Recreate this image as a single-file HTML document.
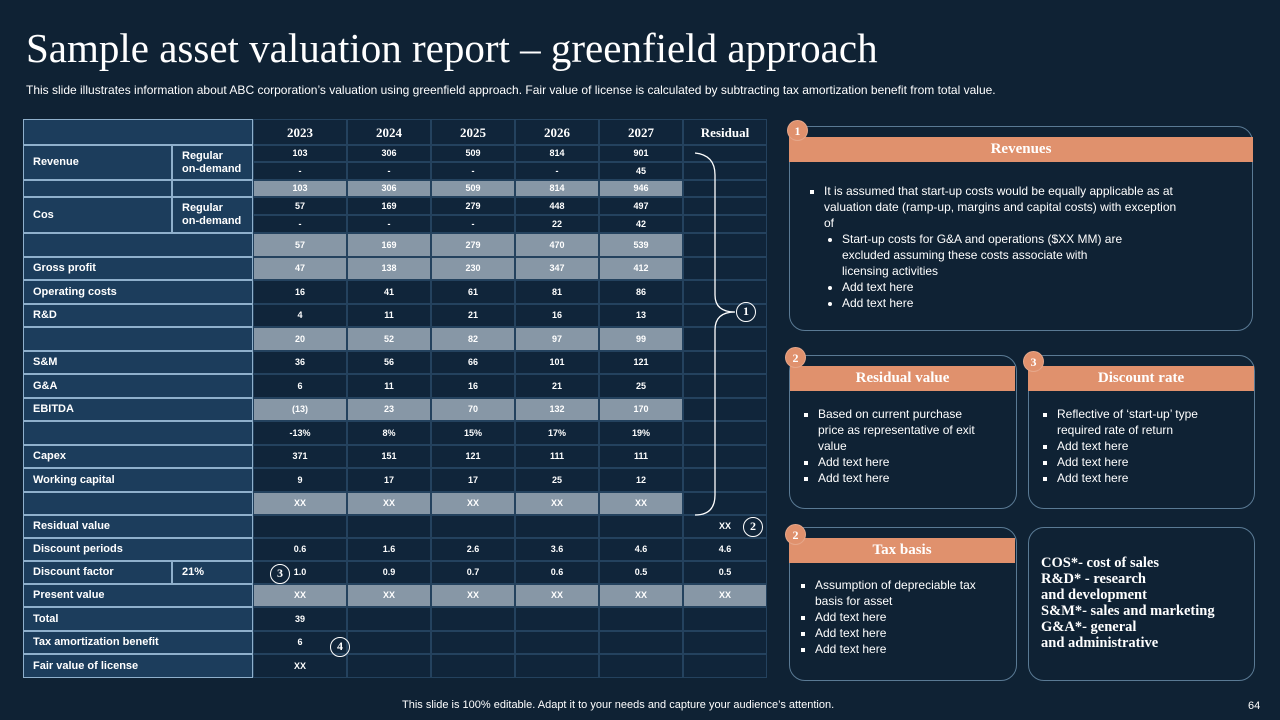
<!DOCTYPE html>
<html><head><meta charset="utf-8">
<style>
body{margin:0;width:1280px;height:720px;background:#0f2234;position:relative;overflow:hidden;font-family:"Liberation Sans",sans-serif;color:#fff}
.a{position:absolute;box-sizing:border-box}
.c{position:absolute;box-sizing:border-box;display:flex;align-items:center;font-size:9px;font-weight:bold;border:1px solid #24425e}
.lab{background:#1c3d5c;border:1.5px solid #8fb0cc;font-size:11px;padding-left:9px}
.num{justify-content:center;background:#10253a}
.g{background:#8797a6}
.hd{justify-content:center;font-family:"Liberation Serif",serif;font-size:13px;font-weight:bold}
.box{border:1px solid #5a7a94;border-radius:16px}
.bar{background:#e0916d;font-family:"Liberation Serif",serif;font-weight:bold;font-size:15px;text-align:center;line-height:25px}
.badge{width:21px;height:21px;border-radius:50%;background:#e0916d;border:1px solid #fff3;font-family:"Liberation Serif",serif;font-weight:bold;font-size:12px;text-align:center;line-height:20px}
.txt{font-size:12px;line-height:16px}
.txt ul{margin:0;padding-left:18px;list-style:square}
.txt ul ul{list-style:disc;width:290px}
.cir{width:20px;height:20px;border-radius:50%;border:1.5px solid #fff;font-family:"Liberation Serif",serif;font-weight:bold;font-size:12px;text-align:center;line-height:17px}
</style></head><body>
<div class="a" style="left:26px;top:24px;font-family:'Liberation Serif',serif;font-size:41px;white-space:nowrap">Sample asset valuation report – greenfield approach</div>
<div class="a" style="left:26px;top:83px;font-size:12px;white-space:nowrap">This slide illustrates information about ABC corporation’s valuation using greenfield approach. Fair value of license is calculated by subtracting tax amortization benefit from total value.</div>
<div id="tbl"></div>
<svg class="a" style="left:0;top:0" width="1280" height="720">
<path d="M695 153 Q715 155 715 175 L715 295 Q715 312 735 312 Q715 312 715 330 L715 495 Q715 515 695 515" fill="none" stroke="#fff" stroke-width="1.3"/></svg>
<div class="a cir" style="left:736px;top:302px">1</div>
<div class="a cir" style="left:743px;top:517px">2</div>
<div class="a cir" style="left:270px;top:564px">3</div>
<div class="a cir" style="left:330px;top:637px">4</div>

<div class="a box" style="left:789px;top:126px;width:464px;height:205px"></div>
<div class="a bar" style="left:789px;top:137px;width:464px;height:25px">Revenues</div>
<div class="a badge" style="left:787px;top:120px">1</div>
<div class="a txt" style="left:806px;top:183px;width:372px"><ul><li>It is assumed that start-up costs would be equally applicable as at valuation date (ramp-up, margins and capital costs) with exception of<ul><li>Start-up costs for G&amp;A and operations ($XX MM) are excluded assuming these costs associate with licensing activities</li><li>Add text here</li><li>Add text here</li></ul></li></ul></div>

<div class="a box" style="left:789px;top:355px;width:228px;height:154px"></div>
<div class="a bar" style="left:790px;top:366px;width:225px;height:25px">Residual value</div>
<div class="a badge" style="left:785px;top:347px">2</div>
<div class="a txt" style="left:800px;top:406px;width:188px"><ul><li>Based on current purchase price as representative of exit value</li><li>Add text here</li><li>Add text here</li></ul></div>

<div class="a box" style="left:1028px;top:355px;width:227px;height:154px"></div>
<div class="a bar" style="left:1028px;top:366px;width:226px;height:25px">Discount rate</div>
<div class="a badge" style="left:1023px;top:351px">3</div>
<div class="a txt" style="left:1039px;top:406px;width:200px"><ul><li>Reflective of ‘start-up’ type required rate of return</li><li>Add text here</li><li>Add text here</li><li>Add text here</li></ul></div>

<div class="a box" style="left:789px;top:527px;width:228px;height:154px"></div>
<div class="a bar" style="left:789px;top:538px;width:226px;height:25px">Tax basis</div>
<div class="a badge" style="left:785px;top:524px">2</div>
<div class="a txt" style="left:797px;top:577px;width:210px"><ul><li>Assumption of depreciable tax basis for asset</li><li>Add text here</li><li>Add text here</li><li>Add text here</li></ul></div>

<div class="a box" style="left:1028px;top:527px;width:227px;height:154px"></div>
<div class="a" style="left:1041px;top:555px;font-family:'Liberation Serif',serif;font-weight:bold;font-size:14.5px;line-height:16px;white-space:nowrap">COS*- cost of sales<br>R&amp;D* - research<br>and development<br>S&amp;M*- sales and marketing<br>G&amp;A*- general<br>and administrative</div>

<div class="a" style="left:402px;top:699px;font-size:11px">This slide is 100% editable. Adapt it to your needs and capture your audience’s attention.</div>
<div class="a" style="left:1248px;top:700px;font-size:11px">64</div>

<script>
const years=["2023","2024","2025","2026","2027","Residual"];
const colX=[253,347,431,515,599,683,767];
const rows=[
[145,162,"Revenue","Regular\non-demand",["103","306","509","814","901",""],0,180],
[162,180,null,null,["-","-","-","-","45",""],0],
[180,197,"","",["103","306","509","814","946",""],1],
[197,215,"Cos","Regular\non-demand",["57","169","279","448","497",""],0,233],
[215,233,null,null,["-","-","-","22","42",""],0],
[233,257,"",null,["57","169","279","470","539",""],1],
[257,280,"Gross profit",null,["47","138","230","347","412",""],1],
[280,304,"Operating costs",null,["16","41","61","81","86",""],0],
[304,327,"R&D",null,["4","11","21","16","13",""],0],
[327,351,"",null,["20","52","82","97","99",""],1],
[351,374,"S&M",null,["36","56","66","101","121",""],0],
[374,398,"G&A",null,["6","11","16","21","25",""],0],
[398,421,"EBITDA",null,["(13)","23","70","132","170",""],1],
[421,445,"",null,["-13%","8%","15%","17%","19%",""],0],
[445,468,"Capex",null,["371","151","121","111","111",""],0],
[468,492,"Working capital",null,["9","17","17","25","12",""],0],
[492,515,"",null,["XX","XX","XX","XX","XX",""],1],
[515,538,"Residual value",null,["","","","","","XX"],0],
[538,561,"Discount periods",null,["0.6","1.6","2.6","3.6","4.6","4.6"],0],
[561,584,"Discount factor","21%",["1.0","0.9","0.7","0.6","0.5","0.5"],0],
[584,607,"Present value",null,["XX","XX","XX","XX","XX","XX"],2],
[607,631,"Total",null,["39","","","","",""],0],
[631,654,"Tax amortization benefit",null,["6","","","","",""],0],
[654,678,"Fair value of license",null,["XX","","","","",""],0]
];
const T=document.getElementById('tbl');
function cell(x,y,w,h,cls,txt){const d=document.createElement('div');d.className='c '+cls;d.style.left=x+'px';d.style.top=y+'px';d.style.width=w+'px';d.style.height=h+'px';d.textContent=txt;d.style.whiteSpace='pre-line';d.style.lineHeight='13px';T.appendChild(d);return d;}
let h=cell(23,119,230,26,'lab','');


years.forEach((y,i)=>{const d=cell(colX[i],119,colX[i+1]-colX[i],26,'hd num',y);

});
rows.forEach(r=>{const [t,b,lab,sub,vals,g,lb]=r;
 if(lab!==null){const bot=lb||b;
  if(sub!==null){const l=cell(23,t,149,bot-t,'lab',lab);
   
   
   const s=cell(172,t,81,bot-t,'lab',sub);
   
   }
  else{const l=cell(23,t,230,bot-t,'lab',lab);
   
   }}
 vals.forEach((v,i)=>{let gray=(g===1&&i<5)||(g===2);
  const d=cell(colX[i],t,colX[i+1]-colX[i],b-t,'num'+(gray?' g':''),v);
  
  });
});
</script>
</body></html>
